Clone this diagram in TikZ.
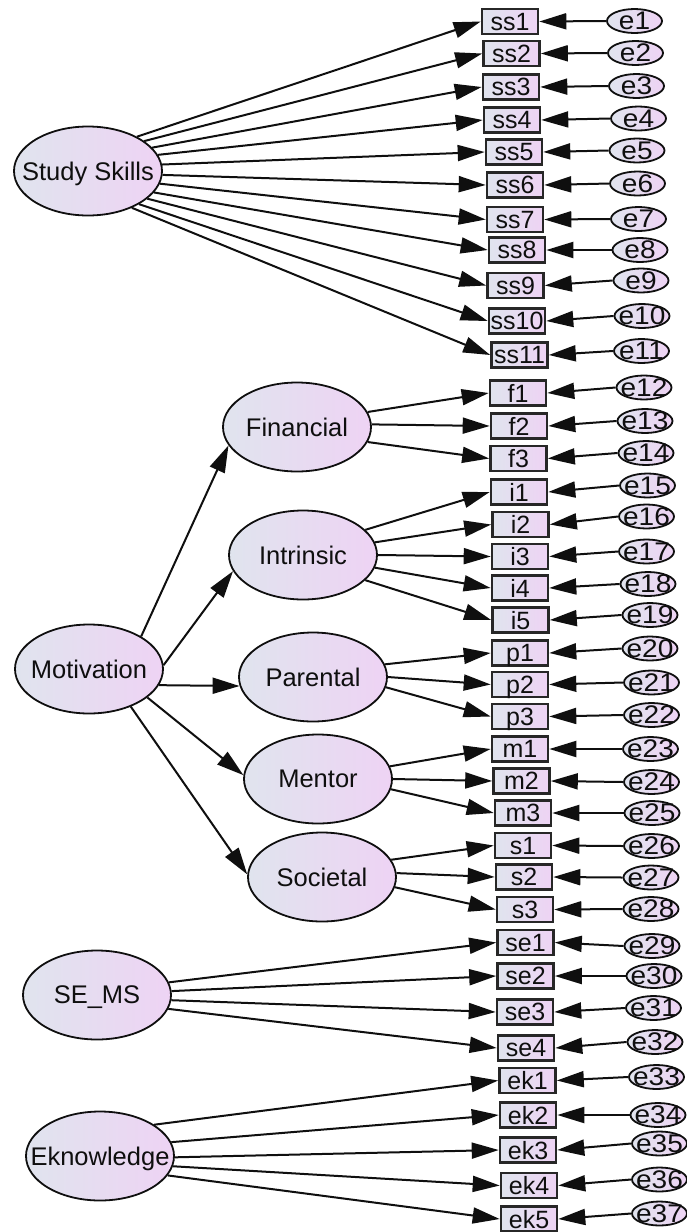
\documentclass[tikz,border=0pt]{standalone}
\usepackage{fontspec}
\usepackage{graphicx}
\setmainfont{Liberation Sans}
\usetikzlibrary{shapes.geometric,arrows.meta}
\definecolor{shadeL}{RGB}{224,228,238}
\definecolor{shadeR}{RGB}{238,211,244}
\definecolor{ink}{RGB}{15,15,15}
% zero-size, vertically centred label so the shapes keep their set size
\newcommand{\lbl}[1]{\smash{\makebox[0pt]{\raisebox{-.5\height}{#1}}}}
\tikzset{
  grad/.style={left color=shadeL,right color=shadeR},
  latent/.style={ellipse,draw=ink,line width=1.8pt,grad,minimum width=148pt,
    minimum height=89pt,inner sep=0pt,text=ink,font=\fontsize{25.5}{25.5}\selectfont},
  obs/.style={rectangle,draw=ink!90,line width=2.6pt,grad,minimum width=56pt,
    minimum height=25pt,inner sep=0pt,text=ink,font=\fontsize{25}{25}\selectfont},
  err/.style={ellipse,draw=ink,line width=1.8pt,grad,minimum width=55pt,
    minimum height=24pt,inner sep=0pt,text=ink,font=\fontsize{25.5}{25.5}\selectfont},
  link/.style={draw=ink,line width=2pt,-{Triangle[length=27pt,width=16pt]}}
}
\begin{document}
\begin{tikzpicture}[x=1pt,y=-1pt]
\useasboundingbox (0,0) rectangle (687,1232);

% latent variables
\node[latent] (sskill) at (88,171)  {\lbl{Study Skills}};
\node[latent] (fin)    at (297,427) {\lbl{Financial}};
\node[latent] (intr)   at (303,555) {\lbl{Intrinsic}};
\node[latent] (mot)    at (89,669)  {\lbl{Motivation}};
\node[latent] (par)    at (313,677) {\lbl{Parental}};
\node[latent] (men)    at (318,779) {\lbl{Mentor}};
\node[latent] (soc)    at (322,877) {\lbl{Societal}};
\node[latent] (sems)   at (97,995)  {\lbl{SE\_MS}};
\node[latent] (ekn)    at (100,1156){\lbl{Eknowledge}};

% observed indicators
\foreach \n/\t/\x/\y in {
  ss1/ss1/510/21.5, ss2/ss2/511.5/53.5, ss3/ss3/511/87, ss4/ss4/512/120,
  ss5/ss5/514/152, ss6/ss6/515/185, ss7/ss7/515/219.5, ss8/ss8/517/250,
  ss9/ss9/515.5/285.5, ss10/ss10/517/321, ss11/ss11/519.5/355,
  f1/f1/518/393, f2/f2/519/426, f3/f3/518.5/458.5,
  i1/i1/519/492, i2/i2/520.5/524.5, i3/i3/520/556.5, i4/i4/520/588, i5/i5/520.5/620,
  p1/p1/520/653, p2/p2/520/684.5, p3/p3/520/716.5,
  m1/m1/520/749, m2/m2/521.5/781, m3/m3/523/813,
  s1/s1/523/845.5, s2/s2/524/877, s3/s3/525/909.5,
  se1/se1/525.5/942.5, se2/se2/525.5/976, se3/se3/525/1012, se4/se4/526/1048,
  ek1/ek1/527.5/1080.5, ek2/ek2/528/1115, ek3/ek3/528/1150,
  ek4/ek4/529/1185.5, ek5/ek5/529/1219}
  \node[obs] (\n) at (\x,\y) {\lbl{\t}};

% error terms
\foreach \i/\x/\y in {
  1/634.5/21, 2/635.5/53, 3/636.5/86, 4/638.5/118.5, 5/637/150.5,
  6/637.5/183.5, 7/638.5/219, 8/640/250, 9/641/280.5, 10/642/316,
  11/641.5/351, 12/644/387.5, 13/645/421, 14/646/453, 15/647.5/485.5,
  16/646.5/516.5, 17/646.5/551.5, 18/648/584, 19/650/615, 20/650/648.5,
  21/651.5/682.5, 22/651.5/715, 23/650.5/749, 24/651.5/782, 25/652/813,
  26/651.5/846, 27/651/877.5, 28/651/909, 29/652/946, 30/654/976,
  31/653.5/1008, 32/655/1042, 33/656.5/1077, 34/658/1115, 35/659.5/1143.5,
  36/659.5/1179.5, 37/659.5/1213.5}
  \node[err] (e\i) at (\x,\y) {\lbl{\scalebox{1.1}[1]{e\i}}};

% Motivation to its first-order factors
\draw[link] (mot.32)  -- (fin.195);
\draw[link] (mot.3)   -- (intr.193);
\draw[link] (mot.-13) -- (par.187);
\draw[link] (mot.-26) -- (men.177);
\draw[link] (mot.-42) -- (soc.178);

% factor loadings
\foreach \s/\a/\t in {
  sskill/35/ss1, sskill/28/ss2, sskill/20/ss3, sskill/13/ss4, sskill/5/ss5,
  sskill/-3/ss6, sskill/-10/ss7, sskill/-18/ss8, sskill/-25/ss9,
  sskill/-33/ss10, sskill/-40/ss11,
  fin/12/f1, fin/2/f2, fin/-12/f3,
  intr/22/i1, intr/10/i2, intr/0/i3, intr/-10/i4, intr/-22/i5,
  par/10/p1, par/0/p2, par/-8/p3,
  men/10/m1, men/0/m2, men/-8/m3,
  soc/14/s1, soc/3/s2, soc/-8/s3,
  sems/10/se1, sems/3/se2, sems/-4/se3, sems/-11/se4,
  ekn/30/ek1, ekn/11/ek2, ekn/-1/ek3, ekn/-8/ek4, ekn/-16/ek5}
  \draw[link] (\s.\a) -- (\t.west);

% error terms to indicators
\foreach \i/\b in {
  1/ss1, 2/ss2, 3/ss3, 4/ss4, 5/ss5, 6/ss6, 7/ss7, 8/ss8, 9/ss9, 10/ss10,
  11/ss11, 12/f1, 13/f2, 14/f3, 15/i1, 16/i2, 17/i3, 18/i4, 19/i5,
  20/p1, 21/p2, 22/p3, 23/m1, 24/m2, 25/m3, 26/s1, 27/s2, 28/s3,
  29/se1, 30/se2, 31/se3, 32/se4, 33/ek1, 34/ek2, 35/ek3, 36/ek4, 37/ek5}
  \draw[link] (e\i.west) -- (\b.east);
\end{tikzpicture}
\end{document}
